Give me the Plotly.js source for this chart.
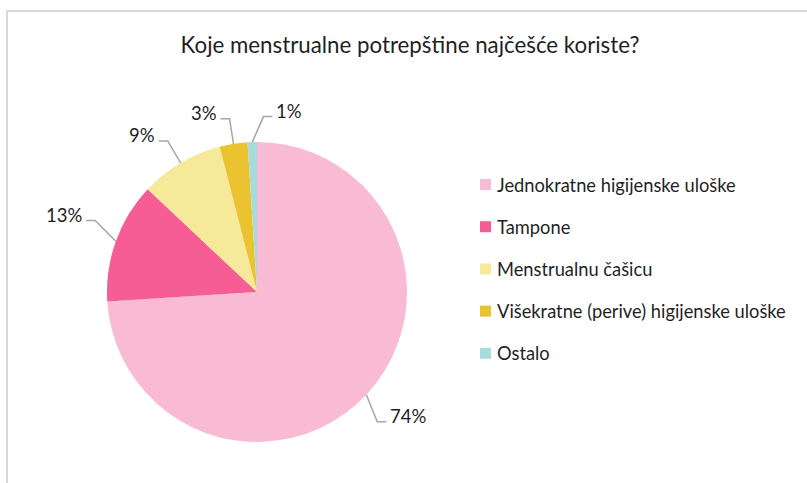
<!DOCTYPE html>
<html>
<head>
<meta charset="utf-8">
<script src="https://cdn.plot.ly/plotly-3.0.1.min.js"></script>
<style>html,body{margin:0;padding:0;background:#fff;}#chart{width:807px;height:483px;}</style>
</head>
<body>
<div id="chart"></div>
<script>
// ---- data ----
const titleText = "Koje menstrualne potrepštine najčešće koriste?";
const labels = [
  "Jednokratne higijenske uloške",
  "Tampone",
  "Menstrualnu čašicu",
  "Višekratne (perive) higijenske uloške",
  "Ostalo"
];
const values = [74, 13, 9, 3, 1];
const colors = ["#F9BBD4", "#F65D94", "#F7E99A", "#EBC331", "#A8DCDC"];

// ---- layout config ----
const W = 807, H = 483;
const FONT = "Lato, 'Open Sans', sans-serif";
const TXT = "#1F1F1F";
const pieDom = {x: [107 / W, 407 / W], y: [41 / H, 341 / H]};

// pie geometry in pixels (derived from domain)
const pxL = pieDom.x[0] * W, pxR = pieDom.x[1] * W;
const pyT = (1 - pieDom.y[1]) * H, pyB = (1 - pieDom.y[0]) * H;
const cx = (pxL + pxR) / 2, cy = (pyT + pyB) / 2;
const R = Math.min(pxR - pxL, pyB - pyT) / 2;

const toPX = x => x / W;
const toPY = y => 1 - y / H;

const shapes = [];
const annotations = [];

// chart frame
shapes.push({type: 'path', xref: 'paper', yref: 'paper',
  path: `M ${toPX(7)},${toPY(483)} L ${toPX(7)},${toPY(11)} L ${toPX(807)},${toPY(11)}`,
  line: {color: '#D9D9D9', width: 2}});

// data labels with elbow leader lines
const total = values.reduce((a, b) => a + b, 0);
let cum = 0;
values.forEach((v, i) => {
  const frac = v / total;
  let mid = (cum + v / 2) / total * 2 * Math.PI;
  cum += v;
  // large slices: labels drift slightly clockwise (as in the original)
  if (frac > 0.1) mid += 4 * Math.PI / 180;
  const s = Math.sin(mid), c = Math.cos(mid);
  const side = s >= -0.05 ? 1 : -1;
  const m0 = (cum - v / 2) / total * 2 * Math.PI;
  const x0 = cx + R * Math.sin(m0), y0 = cy - R * Math.cos(m0);
  const rr = frac > 0.1 ? 1.18 : 1.17;
  let x1 = cx + R * rr * s, y1 = cy - R * rr * c;
  if (side > 0 && s < 0.2 && c > 0) x1 += 12;
  const x2 = x1 + side * 9, y2 = y1;
  shapes.push({type: 'path', xref: 'paper', yref: 'paper',
    path: `M ${toPX(x0)},${toPY(y0)} L ${toPX(x1)},${toPY(y1)} L ${toPX(x2)},${toPY(y2)}`,
    line: {color: '#A6A6A6', width: 1.5}});
  annotations.push({xref: 'paper', yref: 'paper', showarrow: false,
    x: toPX(x2 + side * 2), y: toPY(y2 - 6),
    xanchor: side > 0 ? 'left' : 'right', yanchor: 'middle',
    text: v + '%', font: {family: FONT, size: 18.5, color: TXT}});
});

// custom legend
const legX = 480, legY0 = 184.5, legStep = 42.2, sq = 11;
labels.forEach((lab, i) => {
  const yc = legY0 + i * legStep;
  shapes.push({type: 'rect', xref: 'paper', yref: 'paper',
    x0: toPX(legX), x1: toPX(legX + sq), y0: toPY(yc - sq / 2), y1: toPY(yc + sq / 2),
    fillcolor: colors[i], line: {width: 0}});
  annotations.push({xref: 'paper', yref: 'paper', showarrow: false,
    x: toPX(legX + sq + 4), y: toPY(yc), xanchor: 'left', yanchor: 'middle',
    text: lab, font: {family: FONT, size: 18.3, color: TXT}});
});

const data = [{
  type: 'pie',
  labels: labels,
  values: values,
  sort: false,
  direction: 'clockwise',
  rotation: 0,
  marker: {colors: colors, line: {width: 0}},
  textinfo: 'none',
  hoverinfo: 'label+percent',
  domain: pieDom,
  showlegend: false
}];

const layout = {
  width: W, height: H,
  margin: {l: 0, r: 0, t: 0, b: 0},
  paper_bgcolor: '#fff',
  showlegend: false,
  title: {text: titleText, x: 410 / W, xanchor: 'center', y: 1 - 45 / H, yanchor: 'middle',
    font: {family: FONT, size: 22.3, color: TXT}},
  shapes: shapes,
  annotations: annotations
};

Plotly.newPlot('chart', data, layout, {displayModeBar: false, staticPlot: true});
</script>
</body>
</html>
